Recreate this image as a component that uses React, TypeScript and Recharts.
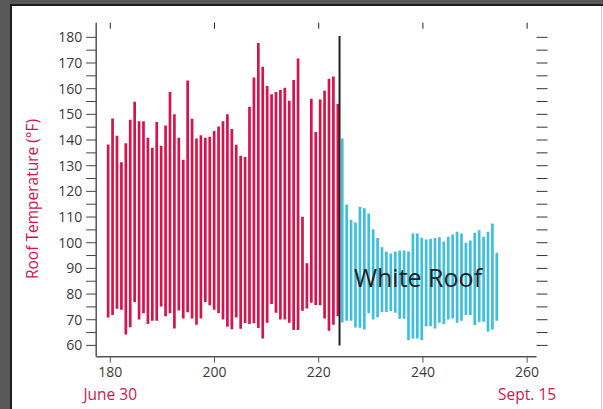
import {
  ComposedChart,
  Bar,
  Cell,
  XAxis,
  YAxis,
  ReferenceLine,
} from 'recharts';

// daily max / min roof temperature (°F), black roof period then white roof period
const blackRoofHigh = [
  138.3, 148.4, 141.7, 131.3, 138.7, 147.9, 154.9, 147.3, 147.3, 140.9,
  137, 147, 137.8, 145.7, 158.7, 150, 140.9, 132.3, 163.2, 148.3,
  140.6, 141.9, 140.9, 141.3, 143.5, 145.3, 147.3, 150, 144.3, 138.2,
  133.9, 133.4, 153, 164.4, 177.8, 168.5, 161, 157.8, 158.7, 159.5,
  160.4, 155.3, 163.4, 171.8, 110.1, 92, 156.1, 143.1, 155.8, 159.2,
  163.9, 164.7, 154,
];
const blackRoofLow = [
  70.9, 71.8, 74.3, 73.9, 64.2, 67.1, 76.9, 70.1, 72.5, 68.3,
  69.6, 69.6, 75.2, 71.4, 72.5, 66.6, 73.6, 70.5, 72.9, 70.5,
  68, 70.5, 76.9, 75.6, 73.9, 72.6, 70.1, 67.3, 66.3, 70.9,
  66.5, 68.7, 68.3, 68.6, 66.8, 62.7, 68.8, 76.1, 72.7, 70.1,
  70.1, 68.8, 66, 66, 73.5, 74.4, 76.6, 75.7, 75.6, 70.5,
  65.7, 68, 71.4,
];
const whiteRoofHigh = [
  140.6, 114.9, 108.8, 107.9, 114, 113.4, 111.4, 105.2, 101.8, 98.2,
  96.5, 95.8, 96.6, 97, 97, 96.6, 103.6, 103.6, 101.9, 101.3,
  101.5, 101.8, 102.1, 100.5, 102.3, 103.2, 104.3, 103.6, 100, 100.9,
  103.9, 104.9, 102.3, 104.3, 107.5, 96.1,
];
const whiteRoofLow = [
  68.9, 69.6, 69.6, 67, 66.9, 66.2, 72.5, 70.1, 71, 73,
  73, 73.4, 72.7, 70.4, 70.4, 62.1, 62.7, 62.7, 62.1, 67.5,
  67.5, 66.6, 68.8, 68.3, 70.1, 70.5, 68.8, 69.6, 71.8, 71.8,
  67.9, 69.2, 69.2, 65.3, 66.2, 69.6,
];

const xTicks = [180, 200, 220, 240, 260];
const yTicks = [
  60, 65, 70, 75, 80, 85, 90, 95, 100, 105, 110, 115, 120,
  125, 130, 135, 140, 145, 150, 155, 160, 165, 170, 175, 180,
];
const switchDay = 224;
const dateLabels: Record<number, string> = { 180: 'June 30', 260: 'Sept. 15' };

const RED = '#d6144b';
const CYAN = '#3dbfdd';
const FONT = '"Open Sans", sans-serif';
const X_DOMAIN = [177.3, 261.8];
const Y_DOMAIN = [55.6, 185.7];

const data = [
  ...blackRoofHigh.map((hi, i) => ({ id: `b${i}`, range: [blackRoofLow[i], hi], roof: 'black' })),
  ...whiteRoofHigh.map((hi, i) => ({ id: `w${i}`, range: [whiteRoofLow[i], hi], roof: 'white' })),
];

function XTick({ x, y, payload }: any) {
  const v = payload.value;
  return (
    <g>
      <text x={x} y={y} dy={12.5} textAnchor="middle" fill="#3a3a3a" fontSize={14} fontFamily={FONT}>
        {v}
      </text>
      {dateLabels[v] && (
        <text x={x} y={y} dy={35} textAnchor="middle" fill={RED} fontSize={15.5} fontFamily={FONT}>
          {dateLabels[v]}
        </text>
      )}
    </g>
  );
}

function YTick({ x, y, payload }: any) {
  if (payload.value % 10 !== 0) return <g />;
  return (
    <text x={x} y={y} dy={5} textAnchor="end" fill="#3a3a3a" fontSize={14} fontFamily={FONT}>
      {payload.value}
    </text>
  );
}

const NoLabel = () => <g />;

export default function App() {
  return (
    <div style={{ position: 'fixed', left: 0, top: 0, width: 603, height: 409, background: '#fff' }}>
      {/* window frame */}
      <div style={{ position: 'absolute', left: 0, top: 0, width: 10, height: 409, background: '#595959' }} />
      <div style={{ position: 'absolute', left: 0, top: 0, width: 603, height: 4, background: '#595959' }} />
      <div style={{ position: 'absolute', left: 10, top: 4, width: 2, height: 405, background: '#1e1e1e' }} />
      <div style={{ position: 'absolute', left: 10, top: 4, width: 593, height: 2, background: '#1e1e1e' }} />
      <div style={{ position: 'absolute', left: 601, top: 6, width: 1, height: 403, background: '#cfcfcf' }} />

      <div style={{ position: 'absolute', left: 0, top: 0 }}>
        <ComposedChart
          width={603}
          height={409}
          data={data}
          margin={{ top: 22.7, right: 46.5, bottom: 22.3, left: 36.2 }}
        >
          <XAxis
            xAxisId="num"
            dataKey="range"
            type="number"
            domain={X_DOMAIN}
            allowDataOverflow
            ticks={xTicks}
            interval={0}
            height={30}
            tick={<XTick />}
            tickSize={6}
            tickMargin={2}
            axisLine={{ stroke: '#555', strokeWidth: 1.5 }}
            tickLine={{ stroke: '#555' }}
          />
          <XAxis
            xAxisId="top"
            dataKey="range"
            orientation="top"
            type="number"
            domain={X_DOMAIN}
            allowDataOverflow
            ticks={xTicks}
            interval={0}
            mirror
            tick={<NoLabel />}
            tickSize={6}
            axisLine={false}
            tickLine={{ stroke: '#222' }}
          />
          <XAxis
            xAxisId="cat"
            dataKey="id"
            type="category"
            orientation="top"
            hide
            padding={{ left: 9.6, right: 37.6 }}
          />
          <YAxis
            yAxisId="left"
            domain={Y_DOMAIN}
            allowDataOverflow
            ticks={yTicks}
            interval={0}
            width={60}
            tick={<YTick />}
            tickSize={10}
            tickMargin={4}
            axisLine={{ stroke: '#555', strokeWidth: 1.5 }}
            tickLine={{ stroke: '#444' }}
            label={{
              content: () => (
                <text
                  x={37.5}
                  y={199}
                  transform="rotate(-90 37.5 199)"
                  textAnchor="middle"
                  fill={RED}
                  fontSize={15.5}
                  fontFamily={FONT}
                >
                  Roof Temperature (°F)
                </text>
              ),
            }}
          />
          <YAxis
            yAxisId="right"
            orientation="right"
            domain={Y_DOMAIN}
            allowDataOverflow
            ticks={yTicks}
            interval={0}
            width={20}
            tick={<NoLabel />}
            tickSize={11}
            axisLine={false}
            tickLine={{ stroke: '#333' }}
          />
          <Bar xAxisId="cat" yAxisId="left" dataKey="range" barSize={2.7} isAnimationActive={false}>
            {data.map((d) => (
              <Cell key={d.id} fill={d.roof === 'black' ? RED : CYAN} />
            ))}
          </Bar>
          <ReferenceLine
            xAxisId="num"
            yAxisId="left"
            segment={[
              { x: switchDay, y: 60 },
              { x: switchDay, y: 180.5 },
            ]}
            stroke="#222"
            strokeWidth={2}
          />
        </ComposedChart>
      </div>

      <svg width={603} height={409} style={{ position: 'absolute', left: 0, top: 0, pointerEvents: 'none' }}>
        <text x={418} y={286.5} textAnchor="middle" fill="#222" fontSize={25} fontFamily={FONT}>
          White Roof
        </text>
      </svg>
    </div>
  );
}
